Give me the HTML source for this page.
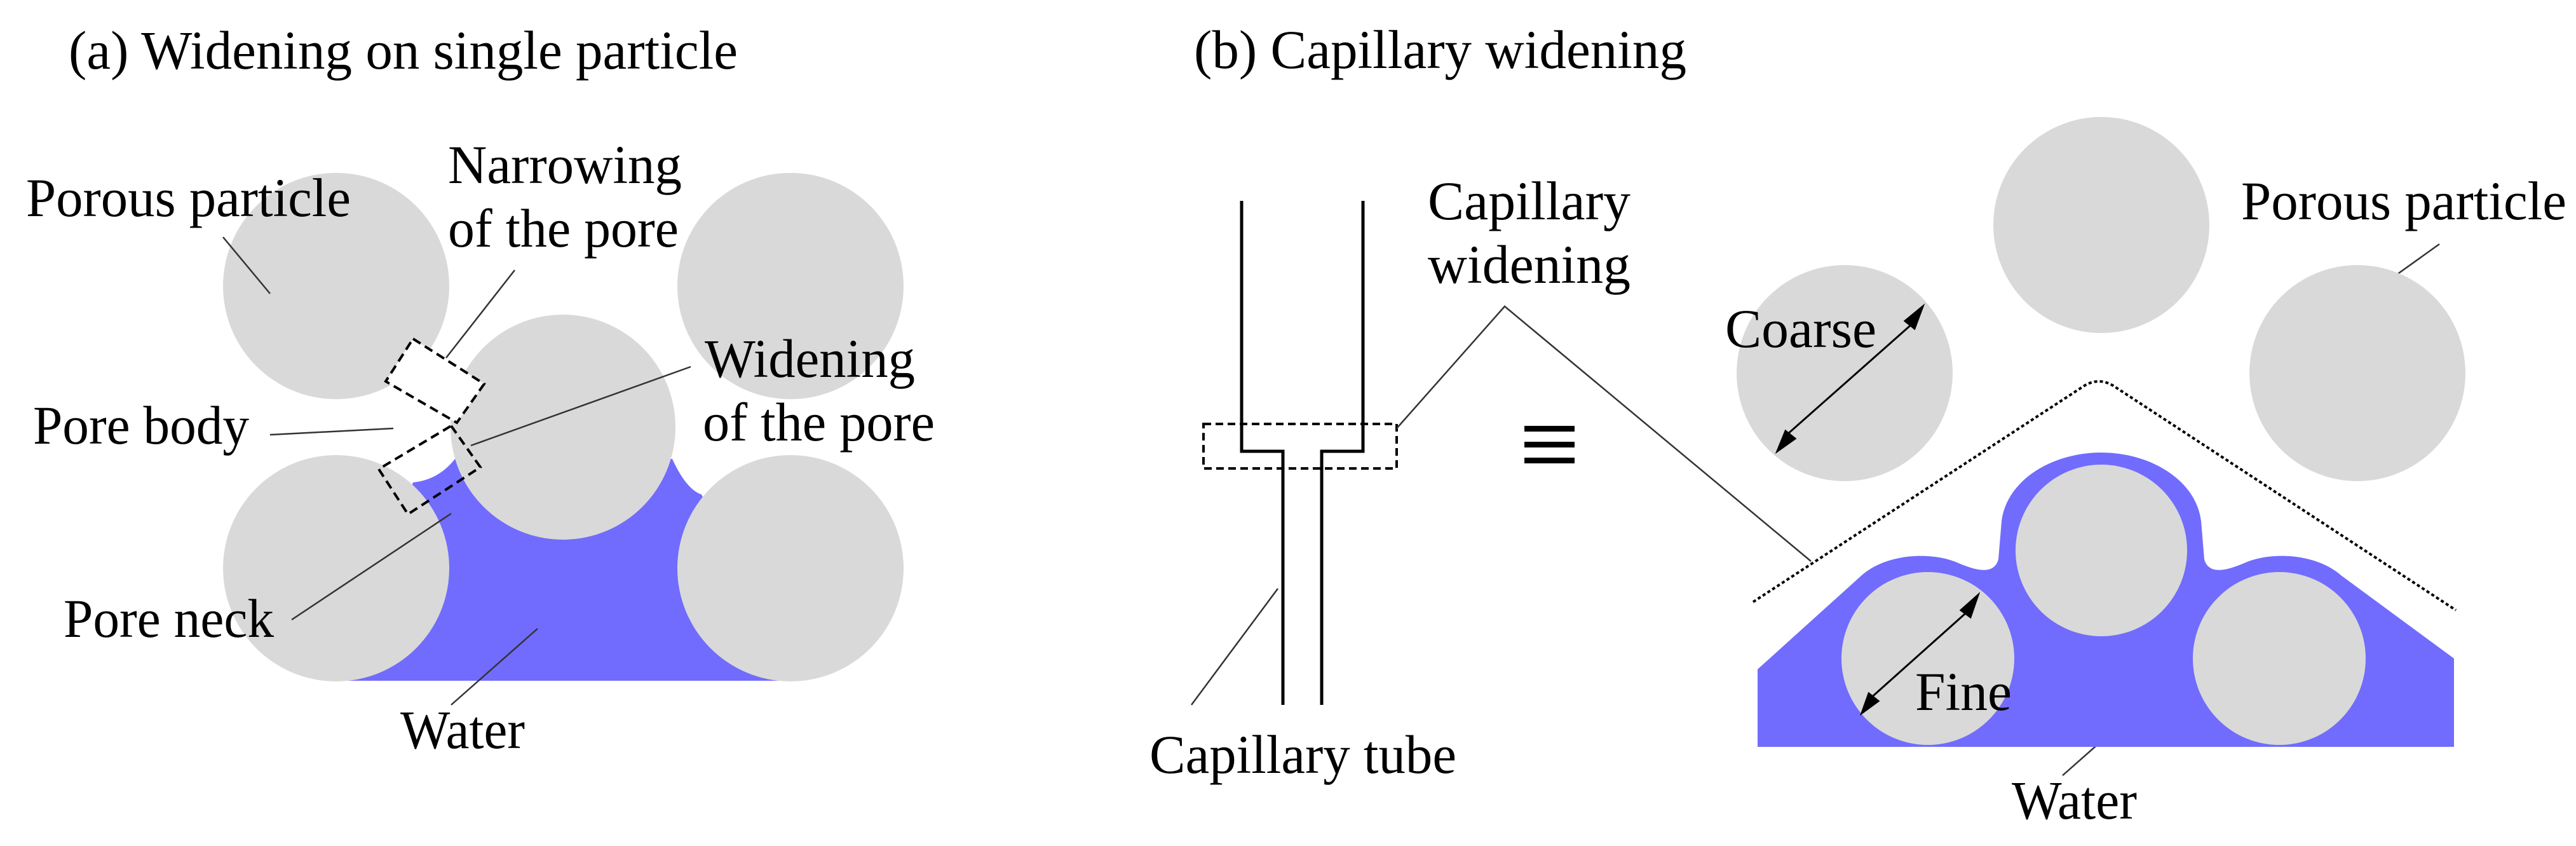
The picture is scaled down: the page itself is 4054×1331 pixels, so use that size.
<!DOCTYPE html>
<html><head><meta charset="utf-8"><style>
html,body{margin:0;padding:0;background:#fff;}
svg{display:block;}
</style></head><body>
<svg width="4054" height="1331" viewBox="0 0 4054 1331" xmlns="http://www.w3.org/2000/svg">
<rect width="4054" height="1331" fill="#fff"/>

<!-- (a) -->
<path d="M650,759 Q690,755 716,722 L1058,722 Q1080,770 1104,778 L1250,1071 L530,1071 Z" fill="#716cfd"/>
<circle cx="529" cy="450" r="178" fill="#d9d9d9"/>
<circle cx="1244" cy="450" r="178" fill="#d9d9d9"/>
<circle cx="529" cy="894" r="178" fill="#d9d9d9"/>
<circle cx="1244" cy="894" r="178" fill="#d9d9d9"/>
<circle cx="886" cy="672" r="177" fill="#d9d9d9"/>
<polygon points="650,533 762,604 719,665 607,600" fill="#fff" stroke="#000" stroke-width="4" stroke-dasharray="14,8"/>
<polygon points="710,670 756,735 642,809 596,738" fill="none" stroke="#000" stroke-width="4" stroke-dasharray="14,8"/>
<g stroke="#333" stroke-width="2.5">
<line x1="351" y1="373" x2="425" y2="462"/>
<line x1="810" y1="425" x2="702" y2="563"/>
<line x1="425" y1="684" x2="619" y2="674"/>
<line x1="1087" y1="577" x2="741" y2="701"/>
<line x1="459" y1="975" x2="710" y2="808"/>
<line x1="710" y1="1109" x2="846" y2="989"/>
</g>

<!-- (b) -->
<g fill="none" stroke="#000" stroke-width="5">
<polyline points="1954,316 1954,710 2019,710 2019,1109"/>
<polyline points="2145,316 2145,710 2080,710 2080,1109"/>
</g>
<rect x="1894" y="667" width="304" height="70" fill="none" stroke="#000" stroke-width="4" stroke-dasharray="12,7"/>
<rect x="2399" y="670" width="79" height="9" fill="#000"/>
<rect x="2399" y="695" width="79" height="9" fill="#000"/>
<rect x="2399" y="720" width="79" height="9" fill="#000"/>
<g stroke="#333" stroke-width="2.5" fill="none">
<polyline points="2198,674 2368,482 2850,883"/>
<line x1="1875" y1="1109" x2="2011" y2="926"/>
<line x1="3839" y1="384" x2="3702" y2="482"/>
<line x1="3382" y1="1100" x2="3246" y2="1220"/>
</g>

<circle cx="2903" cy="587" r="170" fill="#d9d9d9"/>
<circle cx="3307" cy="354" r="170" fill="#d9d9d9"/>
<circle cx="3710" cy="587" r="170" fill="#d9d9d9"/>

<path d="M2759,947 L3280,607 Q3303,593 3326,607 L3865,960" fill="none" stroke="#000" stroke-width="4" stroke-dasharray="5,4"/>

<path d="M2766,1175 L2766,1053 L2930,905 C2970,870 3040,868 3080,885 C3110,898 3138,905 3145,880 L3150,820 C3158,755 3230,712 3307,712 C3384,712 3456,755 3464,820 L3469,880 C3476,905 3504,898 3534,885 C3574,868 3644,870 3684,905 L3862,1036 L3862,1175 Z" fill="#716cfd"/>
<circle cx="3034" cy="1036" r="136" fill="#d9d9d9"/>
<circle cx="3307" cy="866" r="135" fill="#d9d9d9"/>
<circle cx="3587" cy="1036" r="136" fill="#d9d9d9"/>

<g stroke="#000" stroke-width="3" fill="#000">
<line x1="2812" y1="684" x2="3011" y2="508"/>
<polygon points="3026,482 2998,505 3013,517"/>
<polygon points="2797,710 2810,678 2825,690"/>
<line x1="2942" y1="1100" x2="3101" y2="958"/>
<polygon points="3113,936 3086,960 3101,971"/>
<polygon points="2930,1122 2941,1091 2956,1103"/>
</g>

<g style="font-family:'Liberation Serif','DejaVu Serif','Noto Serif CJK SC',serif;font-size:86px" fill="#000">
<text x="108" y="108" textLength="1053" lengthAdjust="spacingAndGlyphs">(a) Widening on single particle</text>
<text x="41" y="340" textLength="511" lengthAdjust="spacingAndGlyphs">Porous particle</text>
<text x="705" y="288" textLength="368" lengthAdjust="spacingAndGlyphs">Narrowing</text>
<text x="705" y="388" textLength="363" lengthAdjust="spacingAndGlyphs">of the pore</text>
<text x="1109" y="593" textLength="331" lengthAdjust="spacingAndGlyphs">Widening</text>
<text x="1106" y="693" textLength="365" lengthAdjust="spacingAndGlyphs">of the pore</text>
<text x="52" y="698" textLength="340" lengthAdjust="spacingAndGlyphs">Pore body</text>
<text x="100" y="1002" textLength="331" lengthAdjust="spacingAndGlyphs">Pore neck</text>
<text x="630" y="1177" textLength="196" lengthAdjust="spacingAndGlyphs">Water</text>
<text x="1879" y="107" textLength="775" lengthAdjust="spacingAndGlyphs">(b) Capillary widening</text>
<text x="2247" y="345" textLength="319" lengthAdjust="spacingAndGlyphs">Capillary</text>
<text x="2247" y="445" textLength="319" lengthAdjust="spacingAndGlyphs">widening</text>
<text x="1809" y="1216" textLength="483" lengthAdjust="spacingAndGlyphs">Capillary tube</text>
<text x="2715" y="546" textLength="238" lengthAdjust="spacingAndGlyphs">Coarse</text>
<text x="3527" y="345" textLength="512" lengthAdjust="spacingAndGlyphs">Porous particle</text>
<text x="3014" y="1117" textLength="152" lengthAdjust="spacingAndGlyphs">Fine</text>
<text x="3166" y="1288" textLength="197" lengthAdjust="spacingAndGlyphs">Water</text>
</g>
</svg>
</body></html>
